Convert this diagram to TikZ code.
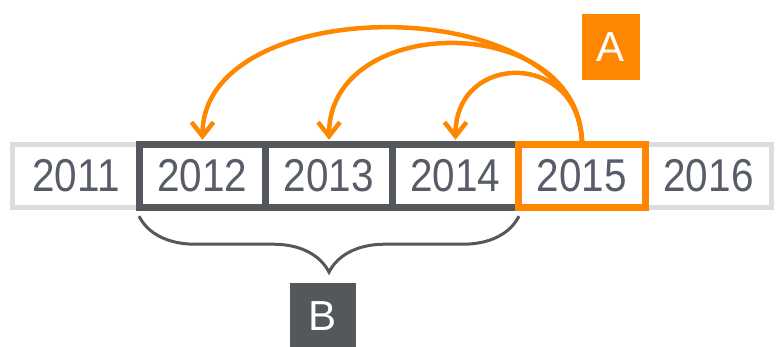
\documentclass[tikz,border=0pt]{standalone}
\usepackage{fontspec}
\setmainfont{Liberation Sans}
\newfontfamily\yearfont[FakeStretch=0.88]{Liberation Sans}
\usetikzlibrary{arrows.meta}
\usetikzlibrary{decorations.pathreplacing}
\definecolor{barorange}{RGB}{255,135,0}
\definecolor{bardark}{RGB}{84,87,92}
\definecolor{barlight}{RGB}{220,220,220}
\definecolor{yeartext}{RGB}{88,92,104}

\begin{document}
\begin{tikzpicture}[x=1pt, y=-1pt,
    year/.style={minimum width=126.5pt, minimum height=62pt, inner sep=0pt,
                 text=yeartext, font=\yearfont\fontsize{46}{50}\selectfont},
    tag/.style={inner sep=0pt, text=white, font=\fontsize{42}{46}\selectfont},
    jump/.style={barorange, line width=4.5pt, shorten >=5pt,
                 -{Straight Barb[length=14pt,width=22pt]}}]

        \useasboundingbox (0,0) rectangle (777,347);

        % Anos
        \foreach \x/\yr in {76/2011, 202.5/2012, 329/2013, 455.5/2014, 582/2015, 708.5/2016}
            \node[year] (y\yr) at (\x,176) {\yr};

        % Faixa e molduras
        \draw[barlight, line width=5pt] (y2011.north west) rectangle (y2016.south east);
        \draw[bardark, line width=7pt] (y2012.north west) rectangle (y2014.south east);
        \foreach \c in {y2012, y2013}
            \draw[bardark, line width=7pt] (\c.north east) -- (\c.south east);
        \draw[barorange, line width=7pt] (y2015.north west) rectangle (y2015.south east);

        % Setas
        \foreach \target/\up in {y2012/155, y2013/134, y2014/94}
            \draw[jump] (y2015.north) .. controls +(0,-\up) and +(0,-\up) .. (\target.north);

        % Chave
        \draw[bardark, line width=3pt, decorate, decoration={brace, mirror, amplitude=56pt}]
            ([yshift=-9pt]y2012.south west) -- ([yshift=-9pt]y2014.south east);

        % Rotulos
        \node[tag, fill=barorange, minimum width=58pt, minimum height=66pt] (A) at (611,47) {A};
        \node[tag, fill=bardark, minimum width=66pt, minimum height=66pt] (B) at (323,316) {B};

    \end{tikzpicture}
\end{document}
